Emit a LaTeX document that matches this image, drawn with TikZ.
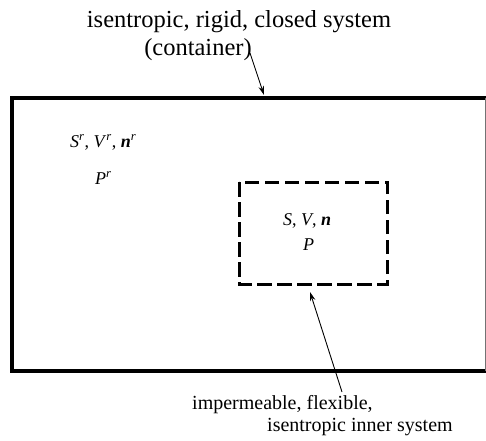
\documentclass[tikz,border=0pt]{standalone}
\usepackage{fontspec}
\setmainfont{Liberation Serif}
\usetikzlibrary{arrows.meta}
\begin{document}
\begin{tikzpicture}[x=1pt,y=-1pt,
  title/.style={inner sep=0pt, anchor=base, font=\fontsize{24.5}{28}\selectfont},
  note/.style={inner sep=0pt, anchor=base west, font=\fontsize{20}{24}\selectfont},
  sym/.style={inner sep=0pt, anchor=base west, font=\fontsize{18}{22}\selectfont},
  wall/.style={line width=4pt, line join=miter},
  inner/.style={line width=3pt, dash pattern=on 14.5pt off 5.5pt},
  pointer/.style={line width=0.9pt, -{Stealth[length=9pt,width=5.5pt]}}]
\useasboundingbox (0,0) rectangle (486,440);
% outer container
\draw[wall] (492,97.5) -- (12,97.5) -- (12,370.5) -- (492,370.5);
\draw[line width=1pt, black!55] (485.3,97.5) -- (485.3,370.5);
% inner system
\draw[inner] (239,182) rectangle (387,284);
% texts
\node[title] (t1) at (239,27) {isentropic, rigid, closed system};
\node[title] (t2) at (198,55) {(container)};
\node[sym] (rv) at (70,147) {\textit{S}\textsuperscript{\textit{r}}, \textit{V}\textsuperscript{\textit{r}}, \textbf{\textit{n}}\textsuperscript{\textit{r}}};
\node[sym] (rp) at (95,184) {\textit{P}\textsuperscript{\textit{r}}};
\node[sym] (iv) at (283,225) {\textit{S}, \textit{V}, \textbf{\textit{n}}};
\node[sym] (ip) at (303,250) {\textit{P}};
\node[note] (b1) at (192,409) {impermeable, flexible,};
\node[note] (b2) at (267,431) {isentropic inner system};
% pointers
\coordinate (a1s) at (250,53);
\coordinate (a1e) at (264,95);
\coordinate (a2s) at (342,392);
\coordinate (a2e) at (310,292);
\draw[pointer] (a1s) -- (a1e);
\draw[pointer] (a2s) -- (a2e);
\end{tikzpicture}
\end{document}
